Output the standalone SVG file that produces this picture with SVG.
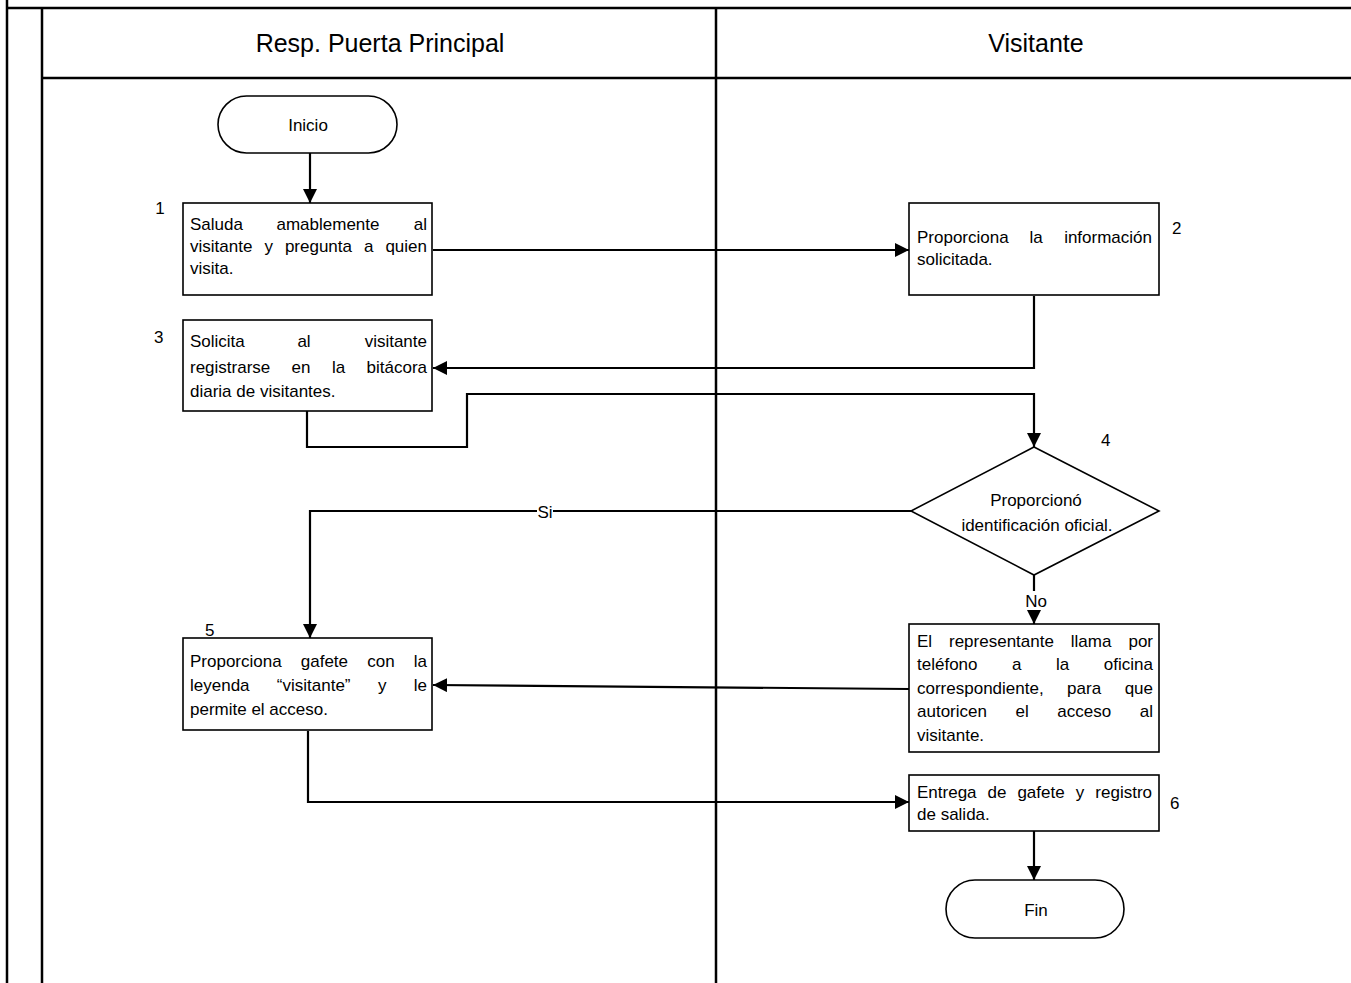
<svg xmlns="http://www.w3.org/2000/svg" width="1351" height="983" viewBox="0 0 1351 983">
  <defs>
    <marker id="arrow" markerUnits="userSpaceOnUse" markerWidth="14" markerHeight="14" refX="14" refY="7" orient="auto">
      <path d="M0,0 L14,7 L0,14 z" fill="#000"/>
    </marker>
    <style>
      .frame { stroke: #000; stroke-width: 2.5; fill: none; }
      .box { fill: #fff; stroke: #000; stroke-width: 1.6; }
      .conn { fill: none; stroke: #000; stroke-width: 2.2; }
      .t { font-family: "Liberation Sans", Arial, sans-serif; font-size: 17px; fill: #000; }
      .hdr { font-family: "Liberation Sans", Arial, sans-serif; font-size: 25px; fill: #000; text-anchor: middle; }
      .m { text-anchor: middle; }
      .e { text-anchor: end; }
    </style>
  </defs>
  <rect width="1351" height="983" fill="#fff"/>

  <!-- swimlane frame -->
  <g id="frame">
    <line class="frame" x1="7" y1="0" x2="7" y2="983"/>
    <line class="frame" x1="7" y1="8" x2="1351" y2="8"/>
    <line class="frame" x1="42" y1="8" x2="42" y2="983"/>
    <line class="frame" x1="42" y1="78" x2="1351" y2="78"/>
    <line class="frame" x1="716" y1="8" x2="716" y2="983"/>
    <text class="hdr" x="380" y="52">Resp. Puerta Principal</text>
    <text class="hdr" x="1036" y="52">Visitante</text>
  </g>

  <!-- connectors -->
  <g id="connectors">
    <line class="conn" x1="310" y1="153" x2="310" y2="203" marker-end="url(#arrow)"/>
    <line class="conn" x1="433" y1="250" x2="909" y2="250" marker-end="url(#arrow)"/>
    <polyline class="conn" points="1034,296 1034,368 433,368" marker-end="url(#arrow)"/>
    <polyline class="conn" points="307,411 307,447 467,447 467,394 1034,394 1034,447" marker-end="url(#arrow)"/>
    <polyline class="conn" points="911,511 310,511 310,638" marker-end="url(#arrow)"/>
    <line class="conn" x1="1034" y1="575" x2="1034" y2="624" marker-end="url(#arrow)"/>
    <line class="conn" x1="909" y1="689" x2="433" y2="685" marker-end="url(#arrow)"/>
    <polyline class="conn" points="308,731 308,802 909,802" marker-end="url(#arrow)"/>
    <line class="conn" x1="1034" y1="831" x2="1034" y2="880" marker-end="url(#arrow)"/>
    <rect x="537" y="504" width="16" height="15" fill="#fff"/>
    <text class="t m" x="545" y="518">Si</text>
    <rect x="1022" y="591" width="28" height="19" fill="#fff"/>
    <text class="t m" x="1036" y="607">No</text>
  </g>

  <g id="inicio">
    <rect class="box" x="218" y="96" width="179" height="57" rx="28.5"/>
    <text class="t m" x="308" y="131">Inicio</text>
  </g>

  <!-- justified lines: words placed one by one, gaps spread evenly -->
  <g id="step1">
    <rect class="box" x="183" y="203" width="249" height="92"/>
    <text class="t m" x="160" y="214">1</text>
    <text class="t" x="190" y="230">Saluda</text>
    <text class="t m" x="328" y="230">amablemente</text>
    <text class="t e" x="427" y="230">al</text>
    <text class="t" x="190" y="252">visitante</text>
    <text class="t" x="264.4" y="252">y</text>
    <text class="t" x="284.9" y="252">pregunta</text>
    <text class="t" x="364" y="252">a</text>
    <text class="t e" x="427" y="252">quien</text>
    <text class="t" x="190" y="274">visita.</text>
  </g>

  <g id="step2">
    <rect class="box" x="909" y="203" width="250" height="92"/>
    <text class="t" x="1172" y="234">2</text>
    <text class="t" x="917" y="243">Proporciona</text>
    <text class="t m" x="1036" y="243">la</text>
    <text class="t e" x="1152" y="243">información</text>
    <text class="t" x="917" y="265">solicitada.</text>
  </g>

  <g id="step3">
    <rect class="box" x="183" y="320" width="249" height="91"/>
    <text class="t" x="154" y="343">3</text>
    <text class="t" x="190" y="347">Solicita</text>
    <text class="t m" x="304" y="347">al</text>
    <text class="t e" x="427" y="347">visitante</text>
    <text class="t" x="190" y="373">registrarse</text>
    <text class="t m" x="301" y="373">en</text>
    <text class="t m" x="338.6" y="373">la</text>
    <text class="t e" x="427" y="373">bitácora</text>
    <text class="t" x="190" y="397">diaria de visitantes.</text>
  </g>

  <g id="step4">
    <polygon class="box" points="1034,447 1159,511 1034,575 911,511"/>
    <text class="t" x="1101" y="446">4</text>
    <text class="t m" x="1036" y="506" font-size="18">Proporcionó</text>
    <text class="t m" x="1037" y="531" font-size="18">identificación oficial.</text>
  </g>

  <g id="llamada">
    <rect class="box" x="909" y="624" width="250" height="128"/>
    <text class="t" x="917" y="647">El</text>
    <text class="t" x="949" y="647">representante</text>
    <text class="t" x="1070.8" y="647">llama</text>
    <text class="t e" x="1153" y="647">por</text>
    <text class="t" x="917" y="670">teléfono</text>
    <text class="t m" x="1016.8" y="670">a</text>
    <text class="t m" x="1062.7" y="670">la</text>
    <text class="t e" x="1153" y="670">oficina</text>
    <text class="t" x="917" y="694">correspondiente,</text>
    <text class="t m" x="1084.1" y="694">para</text>
    <text class="t e" x="1153" y="694">que</text>
    <text class="t" x="917" y="717">autoricen</text>
    <text class="t m" x="1022.1" y="717">el</text>
    <text class="t m" x="1084.2" y="717">acceso</text>
    <text class="t e" x="1153" y="717">al</text>
    <text class="t" x="917" y="741">visitante.</text>
  </g>

  <g id="step5">
    <rect class="box" x="183" y="638" width="249" height="92"/>
    <text class="t" x="205" y="636">5</text>
    <text class="t" x="190" y="667">Proporciona</text>
    <text class="t m" x="324.4" y="667">gafete</text>
    <text class="t m" x="381" y="667">con</text>
    <text class="t e" x="427" y="667">la</text>
    <text class="t" x="190" y="691">leyenda</text>
    <text class="t m" x="313.7" y="691">“visitante”</text>
    <text class="t m" x="382.2" y="691">y</text>
    <text class="t e" x="427" y="691">le</text>
    <text class="t" x="190" y="715">permite el acceso.</text>
  </g>

  <g id="step6">
    <rect class="box" x="909" y="775" width="250" height="56"/>
    <text class="t" x="1170" y="809">6</text>
    <text class="t" x="917" y="798">Entrega</text>
    <text class="t" x="987.5" y="798">de</text>
    <text class="t" x="1017.4" y="798">gafete</text>
    <text class="t" x="1075.7" y="798">y</text>
    <text class="t e" x="1152" y="798">registro</text>
    <text class="t" x="917" y="820">de salida.</text>
  </g>

  <g id="fin">
    <rect class="box" x="946" y="880" width="178" height="58" rx="29"/>
    <text class="t m" x="1036" y="916">Fin</text>
  </g>
</svg>
